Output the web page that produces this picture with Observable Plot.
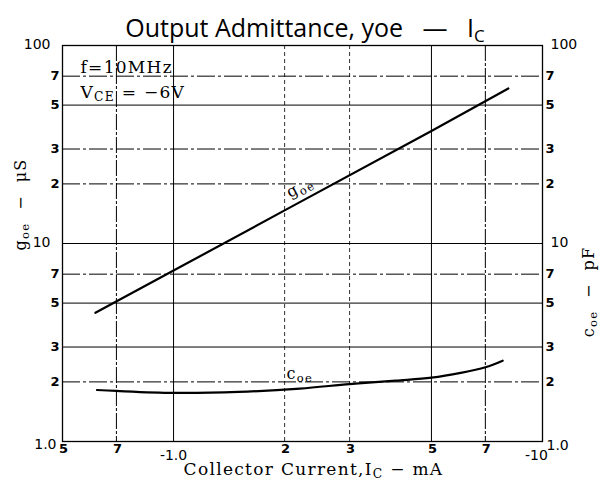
<!DOCTYPE html>
<html><head><meta charset="utf-8">
<script src="https://cdn.jsdelivr.net/npm/d3@7"></script>
<script src="https://cdn.jsdelivr.net/npm/@observablehq/plot@0.6"></script>
<style>
body{margin:0;background:#fff;width:610px;height:488px;overflow:hidden;}
#title{height:25px;padding-top:15px;line-height:25px;font-family:"Open Sans",sans-serif;font-weight:500;font-size:25px;text-align:center;color:#000;white-space:pre;}
#title sub{font-size:17px;vertical-align:baseline;position:relative;top:5px;font-weight:400;}
#chart svg{display:block;}
</style></head><body>
<div id="title">Output Admittance, yoe   —   I<sub>C</sub></div>
<div id="chart"></div>
<script>
// g_oe (µS) vs collector current (mA, magnitude)
const gI = [0.614, 1.0, 2.0, 5.0, 8.08];
const gG = [4.47, 7.3, 14.7, 37.0, 60.7];
// c_oe (pF) vs collector current
const cI = [0.62, 0.7, 1.0, 1.5, 2.2, 3.0, 4.0, 5.0, 6.0, 7.0, 7.8];
const cC = [1.82, 1.80, 1.76, 1.78, 1.85, 1.95, 2.03, 2.10, 2.22, 2.37, 2.56];

// axis ticks
const yMinor = [2, 3, 5, 7, 20, 30, 50, 70];
const yMinorLabels = ["2", "3", "5", "7", "2", "3", "5", "7"];
const yDecades = [10, 100];
const yDecadeLabels = ["10", "100"];
const yOne = [1];
const yOneLabels = ["1.0"];
const xMinor = [0.5, 0.7, 2, 3, 5, 7];
const xMinorLabels = ["5", "7", "2", "3", "5", "7"];
const xMajor1 = [1];
const xMajor1Labels = ["-1.0"];
const xMajor10 = [10];
const xMajor10Labels = ["-10"];

// grid lines
const xGridSolid = [1, 5];
const xGridDash = [0.7, 7];
const xGridFaint = [2, 3];
const yGridSolid = [3, 5, 10, 50];
const yGridDash = [2, 7, 20, 30, 70];

// label anchors (data coordinates)
const gLabel = [{x: 2.2, y: 19.3, t: "g_{oe}"}];
const cLabel = [{x: 2.2, y: 2.2, t: "c_{oe}"}];

const gData = gI.map((x, i) => ({x, y: gG[i]}));
const cData = cI.map((x, i) => ({x, y: cC[i]}));

const sans = "DejaVu Sans";
const serif = "DejaVu Serif";

const chart = Plot.plot({
  width: 610, height: 448,
  marginLeft: 62, marginRight: 68, marginTop: 5, marginBottom: 47,
  x: {type: "log", domain: [0.5, 10], axis: null},
  y: {type: "log", domain: [1, 100], axis: null},
  style: {background: "white", color: "black", overflow: "visible"},
  marks: [
    Plot.ruleX(xGridSolid, {x: d => d, stroke: "black", strokeWidth: 1}),
    Plot.ruleX(xGridDash, {x: d => d, stroke: "black", strokeWidth: 1, strokeDasharray: "16,2,3,2"}),
    Plot.ruleX(xGridFaint, {x: d => d, stroke: "#333", strokeWidth: 1, strokeDasharray: "4,3"}),
    Plot.ruleY(yGridSolid, {y: d => d, stroke: "black", strokeWidth: 1}),
    Plot.ruleY(yGridDash, {y: d => d, stroke: "black", strokeWidth: 1, strokeDasharray: "18,3,3,3"}),
    Plot.frame({stroke: "black", strokeWidth: 1.3}),
    Plot.line(gData, {x: "x", y: "y", stroke: "black", strokeWidth: 2.2}),
    Plot.line(cData, {x: "x", y: "y", stroke: "black", strokeWidth: 2.2, curve: "catmull-rom"}),
    // left ticks
    Plot.text(yMinor, {y: d => d, text: (d, i) => yMinorLabels[i], frameAnchor: "left", dx: -3, textAnchor: "end", fontFamily: sans, fontSize: 13, fontWeight: "bold"}),
    Plot.text(yDecades, {y: d => d, text: (d, i) => yDecadeLabels[i], frameAnchor: "left", dx: -12, dy: -1, textAnchor: "end", fontFamily: sans, fontSize: 14}),
    Plot.text(yOne, {y: d => d, text: (d, i) => yOneLabels[i], frameAnchor: "left", dx: -6, dy: 3, textAnchor: "end", fontFamily: sans, fontSize: 14}),
    // right ticks
    Plot.text(yMinor, {y: d => d, text: (d, i) => yMinorLabels[i], frameAnchor: "right", dx: 3, textAnchor: "start", fontFamily: sans, fontSize: 13, fontWeight: "bold"}),
    Plot.text(yDecades, {y: d => d, text: (d, i) => yDecadeLabels[i], frameAnchor: "right", dx: 8, dy: -1, textAnchor: "start", fontFamily: sans, fontSize: 14}),
    Plot.text(yOne, {y: d => d, text: (d, i) => yOneLabels[i], frameAnchor: "right", dx: 4, dy: 4, textAnchor: "start", fontFamily: sans, fontSize: 14}),
    // bottom ticks
    Plot.text(xMinor, {x: d => d, text: (d, i) => xMinorLabels[i], frameAnchor: "bottom", dy: 11, dx: 1, fontFamily: sans, fontSize: 13, fontWeight: "bold"}),
    Plot.text(xMajor1, {x: d => d, text: (d, i) => xMajor1Labels[i], frameAnchor: "bottom", dy: 18, fontFamily: sans, fontSize: 14}),
    Plot.text(xMajor10, {x: d => d, text: (d, i) => xMajor10Labels[i], frameAnchor: "bottom", dy: 18, dx: -6, fontFamily: sans, fontSize: 14}),
    // axis titles
    Plot.text(["Collector Current,I_{C} − mA"], {text: d => d, frameAnchor: "bottom", dx: 11, dy: 33, fontFamily: serif, fontSize: 17}),
    Plot.text(["g_{oe}  −  μS"], {text: d => d, frameAnchor: "left", dx: -42, dy: 7, rotate: -90, fontFamily: serif, fontSize: 16}),
    Plot.text(["c_{oe}  −  pF"], {text: d => d, frameAnchor: "right", dx: 46, dy: 3, rotate: -90, fontFamily: serif, fontSize: 16}),
    // annotations
    Plot.text(["f=10MHz"], {text: d => d, frameAnchor: "top-left", dx: 18, dy: 15, textAnchor: "start", fontFamily: serif, fontSize: 17}),
    Plot.text(["V_{CE} = −6V"], {text: d => d, frameAnchor: "top-left", dx: 18, dy: 40, textAnchor: "start", fontFamily: serif, fontSize: 17}),
    // curve labels
    Plot.text(gLabel, {x: "x", y: "y", text: "t", rotate: -28, fontFamily: serif, fontSize: 16}),
    Plot.text(cLabel, {x: "x", y: "y", text: "t", fontFamily: serif, fontSize: 16})
  ]
});

function subify(root) {
  root.querySelectorAll("text").forEach(t => {
    const s = t.textContent;
    if (!s.includes("_{")) return;
    const parts = s.split(/(_\{[^}]*\})/);
    while (t.firstChild) t.removeChild(t.firstChild);
    let down = false;
    parts.forEach(p => {
      if (!p) return;
      const ts = document.createElementNS("http://www.w3.org/2000/svg", "tspan");
      if (p.startsWith("_{")) {
        ts.textContent = p.slice(2, -1);
        ts.setAttribute("dy", "0.3em");
        ts.setAttribute("font-size", "0.72em");
        down = true;
      } else {
        ts.textContent = p;
        if (down) { ts.setAttribute("dy", "-0.216em"); down = false; }
      }
      t.appendChild(ts);
    });
  });
}
subify(chart);
chart.querySelectorAll('g[font-family="DejaVu Serif"] text').forEach(t => t.setAttribute("letter-spacing", "1.3"));
document.getElementById("chart").appendChild(chart);
</script>
</body></html>
